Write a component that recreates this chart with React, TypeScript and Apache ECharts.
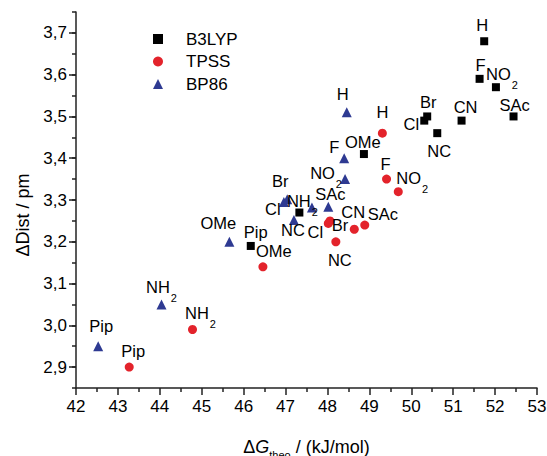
import React, { useEffect, useRef } from "react";
import * as echarts from "echarts";

const seriesNames = ["B3LYP", "TPSS", "BP86"];
const seriesColors = ["#000000", "#e3232b", "#2e3a92"];
const seriesSymbols = ["rect", "circle", "triangle"];
const seriesSizes = [8, 9, 10];

// substituent labels
const b3lypNames = ["H", "F", "NO2", "SAc", "CN", "Br", "Cl", "NC", "OMe", "NH2", "Pip"];
const b3lypX = [51.74, 51.63, 52.02, 52.44, 51.2, 50.38, 50.31, 50.62, 48.87, 47.33, 46.17];
const b3lypY = [3.68, 3.59, 3.57, 3.5, 3.49, 3.5, 3.49, 3.46, 3.41, 3.27, 3.19];

const tpssNames = ["H", "F", "NO2", "SAc", "CN", "Br", "Cl", "NC", "OMe", "NH2", "Pip"];
const tpssX = [49.31, 49.41, 49.69, 48.89, 48.64, 48.06, 48.02, 48.2, 46.46, 44.78, 43.27];
const tpssY = [3.46, 3.35, 3.32, 3.24, 3.23, 3.25, 3.244, 3.2, 3.14, 2.99, 2.9];

const bp86Names = ["H", "F", "NO2", "Br", "Cl", "SAc", "CN", "NC", "OMe", "NH2", "Pip"];
const bp86X = [48.46, 48.4, 48.42, 47.04, 46.96, 48.02, 47.63, 47.2, 45.66, 44.04, 42.53];
const bp86Y = [3.51, 3.4, 3.35, 3.302, 3.295, 3.284, 3.282, 3.252, 3.2, 3.05, 2.95];

// label offsets (px, label centre relative to marker centre); null = no label
const b3lypLabelOffsets = [[-2, -16], [1, -14], [6, -13], [1, -11], [4, -14], [1, -14], [-13, 3], [2, 18], [-1, -12], [3, -11], [5, -14]];
const tpssLabelOffsets = [[0, -21], [-1, -15], [14, -13], [18, -11], [-1, -17], [10, 4], [-13, 9], [4, 18], [11, -16], [8, -16], [4, -16]];
const bp86LabelOffsets = [[-4, -18], [-10, -11], [-19, -6], [-7, -18], [-11, 7], [2, -13], null, [-1, 10], [-11, -19], [0, -17], [3, -20]];

const xTicks = [42, 43, 44, 45, 46, 47, 48, 49, 50, 51, 52, 53];
const yTicks = [2.9, 3.0, 3.1, 3.2, 3.3, 3.4, 3.5, 3.6, 3.7];

const FONT = "'Liberation Sans', Arial, Helvetica, sans-serif";

function fmtLabel(name: string): string {
  const m = name.match(/^([A-Za-z]+)(\d)$/);
  if (m) return `{t|${m[1]}}{s|${m[2]}}`;
  return `{n|${name}}`;
}

const rich = {
  n: { fontSize: 16.5, fontFamily: FONT, color: "#000", lineHeight: 18 },
  t: { fontSize: 16.5, fontFamily: FONT, color: "#000", lineHeight: 18, verticalAlign: "top" },
  s: { fontSize: 11, fontFamily: FONT, color: "#000", lineHeight: 12, padding: [14, 0, 0, 1], verticalAlign: "top" },
};

function buildData(names: string[], xs: number[], ys: number[], offs: (number[] | null)[], size: number) {
  return names.map((n, i) => {
    const off = offs[i];
    return {
      name: n,
      value: [xs[i], ys[i]],
      label: off
        ? { show: true, position: [size / 2 + off[0], size / 2 + off[1]] }
        : { show: false },
    };
  });
}

export default function App() {
  const ref = useRef<HTMLDivElement>(null);
  useEffect(() => {
    if (!ref.current) return;
    document.body.style.margin = "0";
    const chart = echarts.init(ref.current, undefined, { renderer: "svg", width: 547, height: 456 });
    const datasets = [
      buildData(b3lypNames, b3lypX, b3lypY, b3lypLabelOffsets, seriesSizes[0]),
      buildData(tpssNames, tpssX, tpssY, tpssLabelOffsets, seriesSizes[1]),
      buildData(bp86Names, bp86X, bp86Y, bp86LabelOffsets, seriesSizes[2]),
    ];
    const axisLineStyle = { color: "#222", width: 1.5 };
    chart.setOption({
      animation: false,
      backgroundColor: "#fff",
      grid: { left: 76, right: 10, top: 12, bottom: 68, containLabel: false, outerBoundsMode: "none" },
      legend: {
        orient: "vertical",
        left: 153,
        top: 30.5,
        padding: 0,
        itemWidth: 10,
        itemHeight: 10,
        itemGap: 5.5,
        data: seriesNames,
        textStyle: { fontSize: 17, fontFamily: FONT, color: "#000", padding: [0, 0, 0, 18] },
      },
      xAxis: {
        type: "value",
        min: xTicks[0],
        max: xTicks[xTicks.length - 1],
        interval: 1,
        axisLine: { show: true, onZero: false, lineStyle: axisLineStyle },
        axisTick: { show: true, length: 7, lineStyle: axisLineStyle },
        minorTick: { show: true, splitNumber: 2, length: 4, lineStyle: axisLineStyle },
        splitLine: { show: false },
        axisLabel: {
          showMinLabel: true,
          showMaxLabel: true,
          margin: 10,
          fontSize: 17,
          fontFamily: FONT,
          color: "#000",
        },
        name: "{a|Δ}{g|G}{s|theo}{a| / (kJ/mol)}",
        nameLocation: "middle",
        nameGap: 50,
        nameTextStyle: {
          rich: {
            a: { fontSize: 18, fontFamily: FONT, color: "#000", lineHeight: 20, verticalAlign: "top" },
            g: { fontSize: 18, fontFamily: FONT, fontStyle: "italic", color: "#000", lineHeight: 20, verticalAlign: "top" },
            s: { fontSize: 11, fontFamily: FONT, color: "#000", lineHeight: 12, padding: [11, 0, 0, 0], verticalAlign: "top" },
          },
        },
      },
      yAxis: [
        {
          type: "value",
          min: 2.85,
          max: 3.75,
          position: "left",
          axisLine: { show: true, onZero: false, lineStyle: axisLineStyle },
          axisTick: { show: true, length: 7, lineStyle: axisLineStyle, customValues: yTicks },
          splitLine: { show: false },
          axisLabel: {
            customValues: yTicks,
            margin: 9,
            fontSize: 17,
            fontFamily: FONT,
            color: "#000",
            formatter: (v: number) => v.toFixed(1).replace(".", ","),
          },
          name: "ΔDist / pm",
          nameLocation: "middle",
          nameGap: 42,
          nameRotate: 90,
          nameTextStyle: { fontSize: 18, fontFamily: FONT, color: "#000", padding: [0, 30, 0, 0] },
        },
        {
          type: "value",
          min: 2.85,
          max: 3.75,
          interval: 0.05,
          position: "left",
          axisLine: { show: false },
          axisTick: { show: true, length: 4, lineStyle: axisLineStyle },
          axisLabel: { show: false },
          splitLine: { show: false },
        },
      ],
      series: seriesNames.map((name, i) => ({
        name,
        type: "scatter",
        yAxisIndex: 0,
        symbol: seriesSymbols[i],
        symbolSize: seriesSizes[i],
        itemStyle: { color: seriesColors[i], opacity: 1 },
        label: {
          show: true,
          align: "center",
          verticalAlign: "middle",
          formatter: (p: any) => fmtLabel(p.name),
          rich,
        },
        labelLayout: { hideOverlap: false },
        emphasis: { disabled: true },
        data: datasets[i],
        z: 3 - i,
      })),
    });
    return () => chart.dispose();
  }, []);
  return <div ref={ref} style={{ width: 547, height: 456, background: "#fff" }} />;
}
